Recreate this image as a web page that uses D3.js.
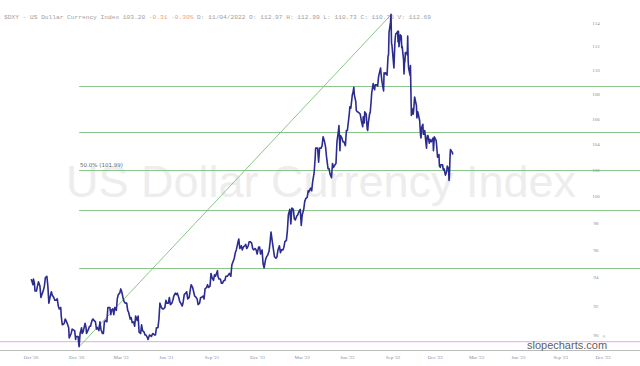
<!DOCTYPE html>
<html><head><meta charset="utf-8">
<script src="https://cdn.jsdelivr.net/npm/d3@7"></script>
<style>html,body{margin:0;padding:0;background:#fff;overflow:hidden}svg{display:block}</style>
</head><body><svg id="c" width="640" height="366"></svg>
<script>
// ---- data ----
const dates = [
"2020-10-01","2020-10-02","2020-10-05","2020-10-06","2020-10-08","2020-10-09","2020-10-12","2020-10-14","2020-10-16","2020-10-19","2020-10-21","2020-10-23","2020-10-26","2020-10-28","2020-10-30","2020-11-02","2020-11-04","2020-11-06","2020-11-09","2020-11-11","2020-11-13","2020-11-16","2020-11-18","2020-11-20","2020-11-23","2020-11-25","2020-11-27","2020-11-30","2020-12-01","2020-12-03","2020-12-04","2020-12-07","2020-12-09","2020-12-11","2020-12-14","2020-12-16","2020-12-17","2020-12-21","2020-12-23","2020-12-28","2020-12-30","2020-12-31",
"2021-01-04","2021-01-05","2021-01-06","2021-01-08","2021-01-11","2021-01-12","2021-01-14","2021-01-18","2021-01-20","2021-01-21","2021-01-25","2021-01-27","2021-01-29","2021-02-01","2021-02-03","2021-02-05","2021-02-08","2021-02-10","2021-02-12","2021-02-15","2021-02-17","2021-02-19","2021-02-22","2021-02-24","2021-02-26","2021-03-01","2021-03-03","2021-03-05","2021-03-09","2021-03-11","2021-03-12","2021-03-15","2021-03-17","2021-03-19","2021-03-22","2021-03-24","2021-03-26","2021-03-29","2021-03-31","2021-04-02","2021-04-05","2021-04-07","2021-04-09","2021-04-12","2021-04-14","2021-04-16","2021-04-19","2021-04-21","2021-04-23","2021-04-26","2021-04-28","2021-04-30","2021-05-03","2021-05-05","2021-05-07","2021-05-10","2021-05-12","2021-05-14","2021-05-17","2021-05-19","2021-05-21","2021-05-24","2021-05-25","2021-05-28","2021-06-01","2021-06-02","2021-06-04","2021-06-07","2021-06-09","2021-06-11","2021-06-14","2021-06-16","2021-06-18","2021-06-21","2021-06-23","2021-06-25","2021-06-28","2021-06-30","2021-07-02","2021-07-05","2021-07-07","2021-07-09","2021-07-12","2021-07-14","2021-07-16","2021-07-19","2021-07-21","2021-07-23","2021-07-26","2021-07-28","2021-07-30","2021-08-02","2021-08-04","2021-08-06","2021-08-09","2021-08-11","2021-08-13","2021-08-16","2021-08-18","2021-08-20","2021-08-23","2021-08-25","2021-08-27","2021-08-30","2021-09-01","2021-09-03","2021-09-06","2021-09-08","2021-09-10","2021-09-13","2021-09-15","2021-09-17","2021-09-20","2021-09-22","2021-09-24","2021-09-27","2021-09-29","2021-10-01","2021-10-04","2021-10-06","2021-10-08","2021-10-12","2021-10-13","2021-10-15","2021-10-18","2021-10-20","2021-10-22","2021-10-25","2021-10-27","2021-10-29","2021-11-01","2021-11-03","2021-11-05","2021-11-08","2021-11-10","2021-11-12","2021-11-15","2021-11-17","2021-11-19","2021-11-22","2021-11-24","2021-11-26","2021-11-29","2021-12-01","2021-12-03","2021-12-06","2021-12-08","2021-12-10","2021-12-13","2021-12-15","2021-12-17","2021-12-20","2021-12-22","2021-12-24","2021-12-27","2021-12-29","2021-12-31",
"2022-01-03","2022-01-05","2022-01-07","2022-01-10","2022-01-12","2022-01-14","2022-01-17","2022-01-19","2022-01-21","2022-01-24","2022-01-26","2022-01-28","2022-01-31","2022-02-02","2022-02-04","2022-02-07","2022-02-09","2022-02-11","2022-02-14","2022-02-16","2022-02-18","2022-02-21","2022-02-23","2022-02-25","2022-02-28","2022-03-02","2022-03-04","2022-03-07","2022-03-09","2022-03-11","2022-03-14","2022-03-16","2022-03-18","2022-03-21","2022-03-23","2022-03-25","2022-03-28","2022-03-30","2022-04-01","2022-04-04","2022-04-06","2022-04-08","2022-04-11","2022-04-13","2022-04-14","2022-04-18","2022-04-20","2022-04-22","2022-04-25","2022-04-27","2022-04-28","2022-05-02","2022-05-04","2022-05-06","2022-05-09","2022-05-11","2022-05-13","2022-05-16","2022-05-18","2022-05-20","2022-05-23","2022-05-25","2022-05-27","2022-05-30","2022-06-01","2022-06-03","2022-06-06","2022-06-08","2022-06-10","2022-06-13","2022-06-14","2022-06-16","2022-06-17","2022-06-20","2022-06-22","2022-06-24","2022-06-27","2022-06-29","2022-07-01","2022-07-05","2022-07-06","2022-07-08","2022-07-11","2022-07-12","2022-07-14","2022-07-15","2022-07-18","2022-07-19","2022-07-21","2022-07-22","2022-07-25","2022-07-27","2022-07-29","2022-08-01","2022-08-02","2022-08-04","2022-08-05","2022-08-08","2022-08-10","2022-08-11","2022-08-12","2022-08-15","2022-08-16","2022-08-18","2022-08-19","2022-08-22","2022-08-23","2022-08-25","2022-08-26","2022-08-29","2022-08-31","2022-09-02","2022-09-06","2022-09-07","2022-09-09","2022-09-12","2022-09-13","2022-09-15","2022-09-16","2022-09-19","2022-09-21","2022-09-22","2022-09-23","2022-09-26","2022-09-27","2022-09-28","2022-09-29","2022-09-30","2022-10-03","2022-10-04","2022-10-05","2022-10-06","2022-10-07","2022-10-10","2022-10-11","2022-10-12","2022-10-13","2022-10-14","2022-10-17","2022-10-19","2022-10-20","2022-10-21","2022-10-24","2022-10-25","2022-10-26","2022-10-27","2022-10-28","2022-10-31","2022-11-01","2022-11-02","2022-11-03","2022-11-04","2022-11-07","2022-11-08","2022-11-09","2022-11-10","2022-11-11","2022-11-14","2022-11-15","2022-11-17","2022-11-21","2022-11-22","2022-11-24","2022-11-28","2022-11-30","2022-12-01","2022-12-02","2022-12-05","2022-12-06","2022-12-08","2022-12-09","2022-12-12","2022-12-13","2022-12-14","2022-12-15","2022-12-16","2022-12-19","2022-12-20","2022-12-22","2022-12-23","2022-12-27","2022-12-28","2022-12-30",
"2023-01-03","2023-01-04","2023-01-06","2023-01-09","2023-01-10","2023-01-12","2023-01-13","2023-01-17","2023-01-18","2023-01-19","2023-01-20","2023-01-23","2023-01-25","2023-01-26","2023-01-27","2023-01-30","2023-01-31","2023-02-01","2023-02-02","2023-02-03","2023-02-06","2023-02-07","2023-02-08","2023-02-09"
];
const closes = [
93.8,93.85,93.5,93.9,93.6,93.05,93.05,93.4,93.7,93.4,92.6,92.8,93.1,93.4,94.0,94.1,93.4,92.2,92.7,93.0,92.75,92.6,92.4,92.4,92.5,92.0,91.8,91.9,91.3,90.7,90.7,90.8,91.1,90.97,90.7,90.5,89.8,90.1,90.4,90.3,89.7,89.9,
89.9,89.5,89.20,90.1,90.5,90.1,90.2,90.8,90.5,90.1,90.4,90.6,90.6,91.0,91.1,91.0,90.9,90.4,90.5,90.3,90.9,90.4,90.1,90.1,90.9,91.0,90.9,91.9,91.9,91.4,91.7,91.8,91.4,91.9,91.7,92.5,92.8,92.9,93.2,93.0,92.5,92.3,92.2,92.2,91.7,91.55,91.1,91.2,90.85,90.9,90.6,91.3,91.0,91.3,90.2,90.1,90.7,90.3,90.2,90.0,90.0,89.8,89.7,90.0,89.9,90.0,90.1,90.0,90.0,90.5,90.5,91.1,92.2,91.9,91.8,91.8,91.9,92.4,92.2,92.2,92.6,92.1,92.2,92.4,92.7,92.9,92.8,92.9,92.6,92.3,92.2,92.0,92.3,92.8,92.9,93.0,92.5,92.6,93.1,93.5,93.3,93.0,92.7,92.6,92.5,92.1,92.2,92.6,92.6,92.7,92.5,93.2,93.3,93.5,93.3,93.4,94.3,94.0,93.8,94.2,94.1,94.5,94.1,93.9,93.9,93.6,93.6,93.8,93.8,94.1,94.1,94.2,94.3,94.1,94.9,95.1,95.4,95.8,96.0,96.5,96.8,96.1,96.3,96.0,96.2,96.3,96.4,96.1,96.3,96.6,96.6,96.5,96.1,96.0,96.1,96.0,95.7,
96.2,96.2,95.7,96.0,95.0,94.7,95.3,95.5,95.6,95.9,96.5,97.3,96.5,96.0,95.5,95.4,95.5,96.0,96.3,95.8,96.0,96.0,96.2,96.6,96.7,97.4,98.6,99.0,97.9,99.1,99.0,98.3,98.2,98.5,98.6,98.8,99.0,97.8,98.6,99.0,99.6,99.8,99.9,100.4,100.3,100.6,100.4,101.1,101.8,102.9,103.7,103.7,102.6,103.7,103.7,103.9,104.6,104.2,103.8,103.0,102.1,102.1,101.7,101.4,102.5,102.2,102.4,102.5,104.2,105.1,105.5,103.5,104.7,104.5,104.2,104.2,103.9,105.1,105.1,106.5,107.0,106.9,108.0,108.1,108.6,108.0,107.4,106.7,106.6,106.6,106.5,106.4,105.9,105.4,106.2,105.7,106.6,106.4,105.2,105.1,105.6,106.5,106.5,107.5,108.1,108.9,108.6,108.4,108.8,108.8,108.7,109.5,110.2,109.7,109.0,108.3,109.8,109.7,109.8,109.6,111.2,111.3,113.2,114.1,114.78,112.3,112.1,111.6,110.2,111.2,112.2,112.8,113.1,113.2,113.3,112.4,113.3,112.0,113.0,112.9,111.9,112.0,110.9,109.7,110.6,110.8,111.5,111.5,111.3,112.9,110.8,110.2,109.6,110.4,108.2,106.3,106.9,106.4,106.7,107.8,107.1,106.1,106.6,105.9,104.7,104.5,105.3,105.6,104.8,104.8,105.1,104.0,103.7,104.5,104.7,104.7,104.1,104.4,104.3,104.2,104.5,103.5,
104.6,104.3,103.9,103.0,103.2,102.3,102.2,102.4,102.4,102.1,102.0,102.1,101.6,101.8,101.9,102.3,102.1,101.2,101.7,102.9,103.6,103.4,103.4,103.2
];
const yTicks = [90,92,94,96,98,100,102,104,106,108,110,112,114];
const xTickDates = ["2020-10-01","2021-01-01","2021-04-01","2021-07-01","2021-10-01","2022-01-01","2022-04-01","2022-07-01","2022-10-01","2023-01-01","2023-04-01","2023-07-01","2023-10-01","2024-01-01"];
const xTickLabels = ["Oct '20","Dec '20","Mar '21","Jun '21","Sep '21","Dec '21","Mar '22","Jun '22","Sep '22","Dec '22","Mar '23","Jun '23","Sep '23","Dec '23"];
const fibLowDate = "2021-01-06", fibLow = 89.20;
const fibHighDate = "2022-09-28", fibHigh = 114.78;
const fibRatios = [0.236, 0.382, 0.5, 0.618, 0.786];
const supportLevel = 89.55;
const headerParts = [
  {t:"$DXY - US Dollar Currency Index 103.20 ", c:"#a0a0a0"},
  {t:"-0.31 -0.30% ", c:"#f0a080"},
  {t:"D: 11/04/2022 O: 112.97 H: 112.99 L: 110.73 C: 110.76 V: 112.69", c:"#a0a0a0"}
];

// ---- drawing ----
const parse = d3.timeParse("%Y-%m-%d");
const data = dates.map((d,i)=>({date:parse(d), v:closes[i]}));
const svg = d3.select("#c");
const W = 640, H = 366;

const x = d3.scaleTime()
  .domain([parse("2020-10-01"), parse("2022-10-01"), parse("2024-01-01")])
  .range([31, 393, 603]);
const y = d3.scaleLog().domain([90,114]).range([335, 23.3]);

// watermark
svg.append("text").attr("x", 321).attr("y", 197).attr("text-anchor","middle")
  .attr("font-family","Liberation Sans, Arial, sans-serif").attr("font-size",45)
  .attr("fill","#ededed").text("US Dollar Currency Index");

// fib levels
const x0 = x(parse(fibLowDate)), x1 = x(parse(fibHighDate));
const levels = fibRatios.map(r => ({r, v: fibHigh - r*(fibHigh-fibLow)}));
svg.append("g").selectAll("line").data(levels).join("line")
  .attr("x1", x0).attr("x2", W)
  .attr("y1", d=>Math.round(y(d.v))+0.5).attr("y2", d=>Math.round(y(d.v))+0.5)
  .attr("stroke","#8cc68c").attr("stroke-width",1);
const mid = levels.find(d=>d.r===0.5);
svg.append("text").attr("x", x0+1).attr("y", y(mid.v)-3)
  .attr("font-family","DejaVu Sans, sans-serif").attr("font-size",5.5).attr("fill","#666")
  .text(`${(mid.r*100).toFixed(1)}% (${mid.v.toFixed(2)})`);

// support line
svg.append("line").attr("x1",0).attr("x2",W)
  .attr("y1",y(supportLevel)).attr("y2",y(supportLevel))
  .attr("stroke","#eab8ea").attr("stroke-width",1.2);

// diagonal
svg.append("line").attr("x1",x0).attr("y1",y(fibLow)).attr("x2",x1).attr("y2",y(fibHigh))
  .attr("stroke","#7cbf7c").attr("stroke-width",0.9);

// x axis
svg.append("line").attr("x1",0).attr("x2",W).attr("y1",350.5).attr("y2",350.5)
  .attr("stroke","#bbb").attr("stroke-width",1);
svg.append("g").selectAll("text").data(xTickDates).join("text")
  .attr("x", d=>x(parse(d))).attr("y", 359).attr("text-anchor","middle")
  .attr("font-family","Liberation Serif, serif").attr("font-size",5).attr("fill","#8a8aa0")
  .text((d,i)=>xTickLabels[i]);

// y axis labels
svg.append("g").selectAll("text").data(yTicks).join("text")
  .attr("x", 596).attr("y", d=>y(d)+1.8).attr("text-anchor","middle")
  .attr("font-family","Liberation Serif, serif").attr("font-size",5).attr("fill","#8a8aa0")
  .text(d=>d);

// header
const ht = svg.append("text").attr("x",4).attr("y",19)
  .attr("font-family","Liberation Mono, monospace").attr("font-size",6.2);
headerParts.forEach(p=>ht.append("tspan").attr("fill",p.c).text(p.t));

// price line
svg.append("path").datum(data)
  .attr("fill","none").attr("stroke","#2b2b90").attr("stroke-width",1.6)
  .attr("stroke-linejoin","round")
  .attr("d", d3.line().x(d=>x(d.date)).y(d=>y(d.v)));

// brand
svg.append("text").attr("x",567).attr("y",349).attr("text-anchor","middle")
  .attr("font-family","Liberation Sans, Arial, sans-serif").attr("font-size",11)
  .attr("fill","#5e5e5e").text("slopecharts.com");
svg.append("text").attr("x",604).attr("y",337.5).attr("text-anchor","middle")
  .attr("font-family","Liberation Sans, Arial, sans-serif").attr("font-size",3.5)
  .attr("fill","#888").text("®");
</script></body></html>
